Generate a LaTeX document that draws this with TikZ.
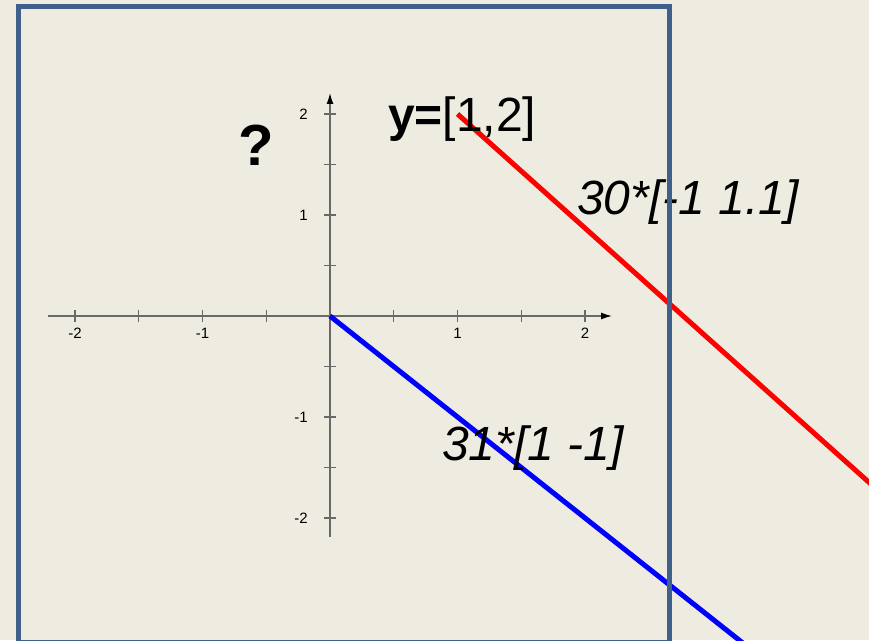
\documentclass[tikz,border=0pt]{standalone}
\usepackage{fontspec}
\setmainfont{Liberation Sans}
\usetikzlibrary{arrows.meta}
\definecolor{paper}{RGB}{238,235,225}
\definecolor{frameblue}{RGB}{64,96,140}
\definecolor{axisgray}{RGB}{105,105,105}

\begin{document}
\begin{tikzpicture}[x=127.5pt,y=101pt,
  axis/.style={axisgray,line width=1.4pt,-{Latex[length=11pt,width=7pt,black]}},
  tickmark/.style={axisgray,line width=1.2pt},
  ticklab/.style={font=\fontsize{15}{18}\selectfont,inner sep=0pt},
  biglab/.style={font=\fontsize{48}{56}\selectfont,inner sep=0pt,anchor=base west},
  vecline/.style={line width=5pt}]
  \useasboundingbox[fill=paper] (-330pt,-324pt) rectangle (539pt,316pt);
  % axes
  \draw[axis] (-2.212,0) -- (2.212,0);
  \draw[axis] (0,-2.188) -- (0,2.208);
  \foreach \t in {-2,-1.5,-1,-0.5,0.5,1,1.5,2}{
    \draw[tickmark] (\t,0) ++(0,-6pt) -- ++(0,12pt);
    \draw[tickmark] (0,\t) ++(-6pt,0) -- ++(12pt,0);
  }
  \foreach \t/\n in {-2/a,-1/b,1/c,2/d}{
    \node[ticklab,anchor=north,yshift=-12pt] (xl\n) at (\t,0) {\t};
    \node[ticklab,anchor=east,xshift=-22pt] (yl\n) at (0,\t) {\t};
  }
  % the two lines
  \coordinate (o) at (0,0);
  \coordinate (yp) at (1,2);
  \begin{scope}
    \clip (-330pt,-324pt) rectangle (539pt,316pt);
    \draw[vecline,red] (yp) -- ++(4,-4.52);
    \draw[vecline,blue] (o) -- ++(4,-4);
  \end{scope}
  % labels
  \node[font=\fontsize{58}{64}\selectfont\bfseries,inner sep=0pt] (q) at (-74pt,171pt) {?};
  \node[biglab] (ylab) at (58pt,184pt) {\textbf{y=}[1,2]};
  \node[biglab,font=\fontsize{48}{56}\selectfont\itshape] (redlab) at (247pt,102pt) {30*[-1 1.1]};
  \node[biglab,font=\fontsize{48}{56}\selectfont\itshape] (bluelab) at (112pt,-144pt) {31*[1 -1]};
  % frame
  \draw[frameblue,line width=5pt] (-311pt,309pt) rectangle (339pt,-326pt);
\end{tikzpicture}
\end{document}
